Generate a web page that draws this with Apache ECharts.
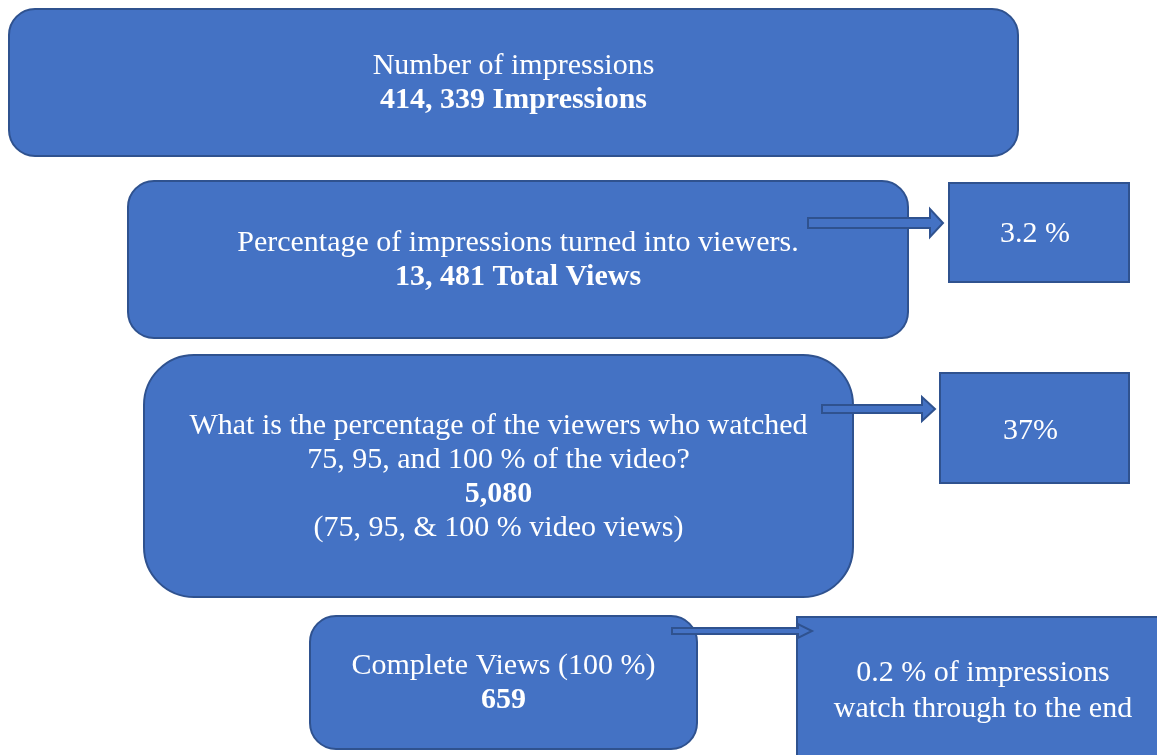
<!DOCTYPE html>
<html>
<head>
<meta charset="utf-8">
<script src="https://cdn.jsdelivr.net/npm/echarts@6/dist/echarts.min.js"></script>
<style>
  html, body { margin: 0; padding: 0; background: #fff; }
  #main { width: 1157px; height: 755px; }
</style>
</head>
<body>
<div id="main"></div>
<script>
// funnel stages: text lines
var stageTitles = [
    ['Number of impressions'],
    ['Percentage of impressions turned into viewers.'],
    ['What is the percentage of the viewers who watched', '75, 95, and 100 % of the video?'],
    ['Complete Views (100 %)']
];
var stageCounts = ['414, 339 Impressions', '13, 481 Total Views', '5,080', '659'];
var stageNotes = ['', '', '(75, 95, & 100 % video views)', ''];
var rateLabels = [['3.2 %'], ['37%'], ['0.2 % of impressions', 'watch through to the end']];

// layout (x, y, w, h, corner radius)
var stageBoxes = [
    [9, 9, 1009, 147, 26],
    [128, 181, 780, 157, 26],
    [144, 355, 709, 242, 50],
    [310, 616, 387, 133, 26]
];
var rateBoxes = [
    [949, 183, 180, 99],
    [940, 373, 189, 110],
    [797, 617, 380, 160]
];
var rateTextY = [234, 431, 691];
// arrows: x0, x1 (shaft end), tip, y center, shaft half, head half
var arrows = [
    [808, 930, 943, 223, 5, 14],
    [822, 922, 935, 409, 4, 12],
    [672, 798, 812, 631, 3, 7]
];

var fillColor = '#4472c4';
var lineColor = '#2f528f';
var fontFamily = '"Liberation Serif", "Times New Roman", serif';
var fontSize = 30;

var myChart = echarts.init(document.getElementById('main'));

var elements = [];

stageBoxes.forEach(function (b, i) {
    elements.push({
        type: 'rect',
        shape: { x: b[0], y: b[1], width: b[2], height: b[3], r: b[4] },
        style: { fill: fillColor, stroke: lineColor, lineWidth: 2 },
        z: 1
    });
    var lines = stageTitles[i].map(function (t) { return '{n|' + t + '}'; });
    lines.push('{b|' + stageCounts[i] + '}');
    if (stageNotes[i]) {
        lines.push('{n|' + stageNotes[i] + '}');
    }
    elements.push({
        type: 'text',
        x: b[0] + b[2] / 2,
        y: b[1] + b[3] / 2 + 1,
        style: {
            text: lines.join('\n'),
            align: 'center',
            verticalAlign: 'middle',
            fill: '#fff',
            rich: {
                n: { fontFamily: fontFamily, fontSize: fontSize, lineHeight: 34, fill: '#fff' },
                b: { fontFamily: fontFamily, fontSize: fontSize, fontWeight: 'bold', lineHeight: 34, fill: '#fff' }
            }
        },
        z: 3
    });
});

rateBoxes.forEach(function (b, i) {
    elements.push({
        type: 'rect',
        shape: { x: b[0], y: b[1], width: b[2], height: b[3] },
        style: { fill: fillColor, stroke: lineColor, lineWidth: 2 },
        z: 1
    });
    elements.push({
        type: 'text',
        x: b[0] + (i === 2 ? 186 : b[2] / 2 - 4),
        y: rateTextY[i],
        style: {
            text: rateLabels[i].join('\n'),
            align: 'center',
            verticalAlign: 'middle',
            fill: '#fff',
            fontFamily: fontFamily,
            fontSize: fontSize,
            lineHeight: 36
        },
        z: 3
    });
});

arrows.forEach(function (a) {
    var x0 = a[0], x1 = a[1], tip = a[2], y = a[3], s = a[4], h = a[5];
    elements.push({
        type: 'polygon',
        shape: {
            points: [
                [x0, y - s], [x1, y - s], [x1, y - h], [tip, y],
                [x1, y + h], [x1, y + s], [x0, y + s]
            ]
        },
        style: { fill: fillColor, stroke: lineColor, lineWidth: 2 },
        z: 2
    });
});

var option = {
    animation: false,
    graphic: elements
};

myChart.setOption(option);
</script>
</body>
</html>
